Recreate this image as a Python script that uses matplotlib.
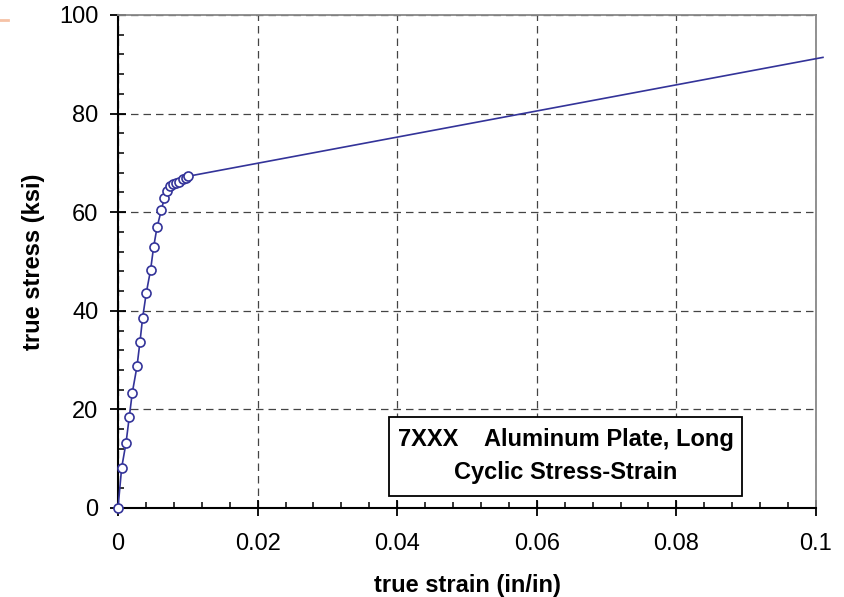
import matplotlib
matplotlib.use('Agg')
import matplotlib.pyplot as plt
from matplotlib.patches import Rectangle
from matplotlib.lines import Line2D
from matplotlib.ticker import MultipleLocator

plt.rcParams['font.family'] = ['Liberation Sans', 'DejaVu Sans']

# cyclic stress-strain curve
strain = [0.0, 0.00053, 0.00115, 0.00162, 0.00205, 0.00272, 0.00315, 0.00353,
          0.00405, 0.00467, 0.0051, 0.00559, 0.0062, 0.00663, 0.00702, 0.00745,
          0.00792, 0.00834, 0.00877, 0.00926, 0.00969, 0.0101]
stress = [0.0, 8.2, 13.2, 18.5, 23.4, 28.7, 33.7, 38.6, 43.6, 48.3, 52.9,
          56.9, 60.4, 62.8, 64.3, 65.3, 65.7, 65.9, 66.2, 66.7, 67.0, 67.3]
# straight extension past the last point
ext_strain = [0.0101, 0.101]
ext_stress = [67.3, 91.4]

xticks = [0, 0.02, 0.04, 0.06, 0.08, 0.1]
xticklabels = ['0', '0.02', '0.04', '0.06', '0.08', '0.1']
yticks = [0, 20, 40, 60, 80, 100]

col = '#333399'

fig = plt.figure(figsize=(8.44, 5.97), dpi=100)
ax = fig.add_axes([0.1398, 0.1491, 0.8270, 0.8258])

ax.plot(ext_strain, ext_stress, color=col, lw=1.2, clip_on=False, zorder=3)
ax.plot(strain, stress, color=col, lw=1.2, marker='o', ms=6.5, mfc='white',
        mec=col, mew=1.2, clip_on=False, zorder=4)

ax.set_xlim(0, 0.1)
ax.set_ylim(0, 100)
ax.set_xticks(xticks, xticklabels)
ax.set_yticks(yticks)
ax.xaxis.set_minor_locator(MultipleLocator(0.004))
ax.yaxis.set_minor_locator(MultipleLocator(4))

ax.tick_params(which='major', direction='inout', length=12, width=1.3,
               labelsize=17, pad=8)
ax.tick_params(which='minor', direction='in', length=4.5, width=1.1)
ax.tick_params(axis='x', which='major', pad=12)

ax.grid(True, which='major', linestyle=(0, (6, 4)), color='#444444', lw=0.9)

for s in ['left', 'bottom']:
    ax.spines[s].set_color('black')
    ax.spines[s].set_linewidth(1.5)
for s in ['top', 'right']:
    ax.spines[s].set_color('#888888')
    ax.spines[s].set_linewidth(1.3)

ax.set_xlabel('true strain (in/in)', fontsize=17, fontweight='bold', labelpad=14)
ax.set_ylabel('true stress (ksi)', fontsize=17, fontweight='bold', labelpad=10)

# title box
ax.add_patch(Rectangle((0.0388, 2.4), 0.0506, 16.1, facecolor='white',
                       edgecolor='black', lw=1.3, zorder=5))
ax.text(0.0642, 13.8, '7XXX    Aluminum Plate, Long', fontsize=17,
        fontweight='bold', ha='center', va='center', zorder=6)
ax.text(0.0641, 7.1, 'Cyclic Stress-Strain', fontsize=17,
        fontweight='bold', ha='center', va='center', zorder=6)

# small orange mark at the top-left edge
fig.add_artist(Line2D([0, 8 / 844], [1 - 20 / 597] * 2, color='#f6c2a6', lw=2))

fig.savefig('out.png', dpi=100)
